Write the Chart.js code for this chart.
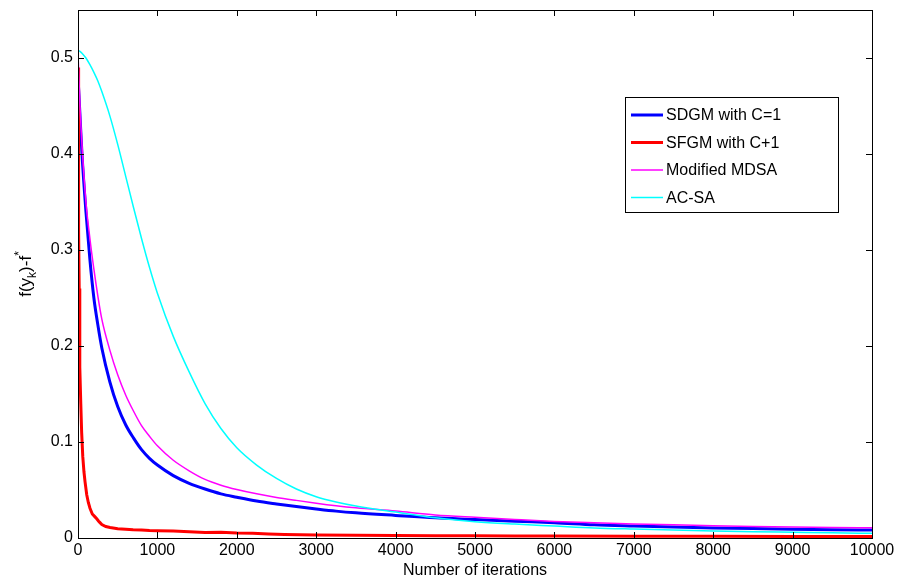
<!DOCTYPE html>
<html>
<head>
<meta charset="utf-8">
<script src="https://cdn.jsdelivr.net/npm/chart.js@4/dist/chart.umd.min.js"></script>
<style>
  html, body { margin: 0; padding: 0; background: #fff; }
  #wrap { width: 899px; height: 578px; }
</style>
</head>
<body>
<div id="wrap"><canvas id="chart" width="899" height="578"></canvas></div>
<script>
// data
var seriesNames = ['SDGM with C=1', 'SFGM with C+1', 'Modified MDSA', 'AC-SA'];
var seriesColors = ['#0000ff', '#ff0000', '#ff00ff', '#00ffff'];

var iterations = [0, 25, 50, 100, 150, 200, 250, 300, 400, 500, 600, 700, 800, 900, 1000,
    1200, 1400, 1600, 1800, 2000, 2250, 2500, 2750, 3000, 3250, 3500, 4000, 4500, 5000, 5500,
    6000, 6500, 7000, 7500, 8000, 8500, 9000, 9500, 10000];

var sdgmValues = [0.48, 0.44, 0.40, 0.34, 0.29, 0.25, 0.222, 0.198, 0.163, 0.137, 0.118,
    0.104, 0.092, 0.083, 0.076, 0.065, 0.057, 0.051, 0.046, 0.0425, 0.0385, 0.0355, 0.0328,
    0.0303, 0.028, 0.0262, 0.0235, 0.021, 0.0193, 0.0175, 0.016, 0.0138, 0.0125, 0.0114,
    0.0105, 0.0098, 0.0092, 0.0087, 0.0083];

var mdsaValues = [0.505, 0.45, 0.41, 0.35, 0.312, 0.28, 0.252, 0.228, 0.196, 0.170, 0.149,
    0.132, 0.117, 0.106, 0.096, 0.081, 0.070, 0.061, 0.055, 0.0505, 0.046, 0.0423, 0.0392,
    0.0363, 0.0337, 0.0315, 0.028, 0.024, 0.0215, 0.0193, 0.0173, 0.0159, 0.0147, 0.0137,
    0.0128, 0.0121, 0.0115, 0.011, 0.0107];

var acsaValues = [0.508, 0.507, 0.505, 0.50, 0.493, 0.485, 0.476, 0.465, 0.44, 0.41, 0.377,
    0.344, 0.312, 0.282, 0.255, 0.21, 0.173, 0.140, 0.114, 0.094, 0.076, 0.062, 0.051, 0.043,
    0.0375, 0.0333, 0.027, 0.021, 0.017, 0.0145, 0.0125, 0.0105, 0.0093, 0.0083, 0.0074,
    0.0066, 0.006, 0.0054, 0.0049];

// SFGM drops almost immediately, so it gets its own (denser) sampling
var sfgmIterations = [0, 5, 10, 15, 20, 25, 35, 46, 60, 75, 88, 110, 130, 151, 180, 214, 236,
    260, 277, 300, 350, 404, 500, 600, 694, 800, 900, 1000, 1200, 1400, 1600, 1800, 2000,
    2200, 2400, 2600, 3000, 3500, 4000, 4500, 5000, 5500, 6000, 7000, 8000, 9000, 10000];
var sfgmValues = [0.49, 0.40, 0.32, 0.26, 0.21, 0.178, 0.14, 0.11, 0.085, 0.069, 0.059,
    0.045, 0.037, 0.031, 0.025, 0.022, 0.020, 0.0175, 0.016, 0.014, 0.012, 0.011, 0.0097,
    0.009, 0.0085, 0.0083, 0.0077, 0.0075, 0.0072, 0.0066, 0.0058, 0.006, 0.0052, 0.005,
    0.0042, 0.0037, 0.0032, 0.0029, 0.0026, 0.0023, 0.0024, 0.0021, 0.0021, 0.0018, 0.0017,
    0.0016, 0.0015];

var xTicks = [0, 1000, 2000, 3000, 4000, 5000, 6000, 7000, 8000, 9000, 10000];
var yTicks = [0, 0.1, 0.2, 0.3, 0.4, 0.5];

function toPoints(xs, ys) {
    return xs.map(function(x, i) { return { x: x, y: ys[i] }; });
}

var FONT = '"Liberation Sans", Arial, sans-serif';

// MATLAB-like box with inward ticks, y label with sub/superscript, legend inside
var matlabAxes = {
    id: 'matlabAxes',
    afterDraw: function(chart) {
        var ctx = chart.ctx;
        var a = chart.chartArea;
        var xs = chart.scales.x, ys = chart.scales.y;
        ctx.save();
        ctx.strokeStyle = '#000';
        ctx.lineWidth = 1;
        ctx.strokeRect(Math.round(a.left) + 0.5, Math.round(a.top) + 0.5,
            Math.round(a.right - a.left), Math.round(a.bottom - a.top));
        ctx.beginPath();
        xTicks.forEach(function(v) {
            var px = Math.round(xs.getPixelForValue(v)) + 0.5;
            ctx.moveTo(px, a.bottom); ctx.lineTo(px, a.bottom - 6);
            ctx.moveTo(px, a.top); ctx.lineTo(px, a.top + 6);
        });
        yTicks.forEach(function(v) {
            var py = Math.round(ys.getPixelForValue(v)) + 0.5;
            ctx.moveTo(a.left, py); ctx.lineTo(a.left + 6, py);
            ctx.moveTo(a.right, py); ctx.lineTo(a.right - 6, py);
        });
        ctx.stroke();

        // x title
        ctx.fillStyle = '#000';
        ctx.font = '16px ' + FONT;
        ctx.textAlign = 'center';
        ctx.textBaseline = 'alphabetic';
        ctx.fillText('Number of iterations', (a.left + a.right) / 2, 575);

        // y title f(y_k)-f^*
        var big = '17px ' + FONT, small = '12px ' + FONT;
        var parts = [['f(y', big, 0], ['k', small, 5], [')-f', big, 0], ['*', small, -8]];
        var total = 0;
        parts.forEach(function(p) { ctx.font = p[1]; total += ctx.measureText(p[0]).width; });
        ctx.translate(31, (a.top + a.bottom) / 2);
        ctx.rotate(-Math.PI / 2);
        ctx.textAlign = 'left';
        var cx = -total / 2;
        parts.forEach(function(p) {
            ctx.font = p[1];
            ctx.fillText(p[0], cx, p[2]);
            cx += ctx.measureText(p[0]).width;
        });
        ctx.restore();

        // legend
        ctx.save();
        var lx = 625, ly = 97, lw = 213, lh = 115;
        ctx.fillStyle = '#fff';
        ctx.fillRect(lx, ly, lw, lh);
        ctx.strokeStyle = '#000';
        ctx.lineWidth = 1;
        ctx.strokeRect(lx + 0.5, ly + 0.5, lw, lh);
        ctx.font = '16px ' + FONT;
        ctx.textBaseline = 'middle';
        ctx.textAlign = 'left';
        chart.data.datasets.forEach(function(ds, i) {
            var y = ly + 18 + i * 27.5;
            ctx.strokeStyle = ds.borderColor;
            ctx.lineWidth = ds.borderWidth;
            ctx.beginPath();
            ctx.moveTo(lx + 6, y); ctx.lineTo(lx + 38, y);
            ctx.stroke();
            ctx.fillStyle = '#000';
            ctx.fillText(ds.label, lx + 41, y + 1);
        });
        ctx.restore();
    }
};

var widths = [3, 3, 1.5, 1.5];
var dataSets = [
    toPoints(iterations, sdgmValues),
    toPoints(sfgmIterations, sfgmValues),
    toPoints(iterations, mdsaValues),
    toPoints(iterations, acsaValues)
];

new Chart(document.getElementById('chart').getContext('2d'), {
    type: 'line',
    data: {
        datasets: dataSets.map(function(pts, i) {
            return {
                label: seriesNames[i],
                data: pts,
                borderColor: seriesColors[i],
                backgroundColor: seriesColors[i],
                borderWidth: widths[i],
                pointRadius: 0,
                fill: false,
                cubicInterpolationMode: i === 1 ? 'default' : 'monotone',
                tension: i === 1 ? 0 : 0.4,
                order: 4 - i
            };
        })
    },
    options: {
        responsive: false,
        animation: false,
        events: [],
        layout: { padding: { left: 0, top: 10, right: 27, bottom: 0 } },
        plugins: { legend: { display: false }, tooltip: { enabled: false } },
        scales: {
            x: {
                type: 'linear',
                min: 0,
                max: 10000,
                afterBuildTicks: function(scale) {
                    scale.ticks = xTicks.map(function(v) { return { value: v }; });
                },
                afterFit: function(scale) {
                    scale.height = 40;
                    scale.paddingLeft = 0;
                    scale.paddingRight = 0;
                },
                grid: { display: false, drawTicks: false },
                border: { display: false },
                ticks: {
                    padding: 3,
                    maxRotation: 0,
                    autoSkip: false,
                    color: '#000',
                    font: { family: FONT, size: 16 },
                    callback: function(v) { return String(v); }
                }
            },
            y: {
                type: 'linear',
                min: 0,
                max: 0.55,
                afterBuildTicks: function(scale) {
                    scale.ticks = yTicks.map(function(v) { return { value: v }; });
                },
                afterFit: function(scale) {
                    scale.width = 78;
                    scale.paddingTop = 0;
                    scale.paddingBottom = 0;
                },
                grid: { display: false, drawTicks: false },
                border: { display: false },
                ticks: {
                    padding: 5,
                    autoSkip: false,
                    color: '#000',
                    font: { family: FONT, size: 16 },
                    callback: function(v) { return String(Math.round(v * 10) / 10); }
                }
            }
        }
    },
    plugins: [matlabAxes]
});
</script>
</body>
</html>
